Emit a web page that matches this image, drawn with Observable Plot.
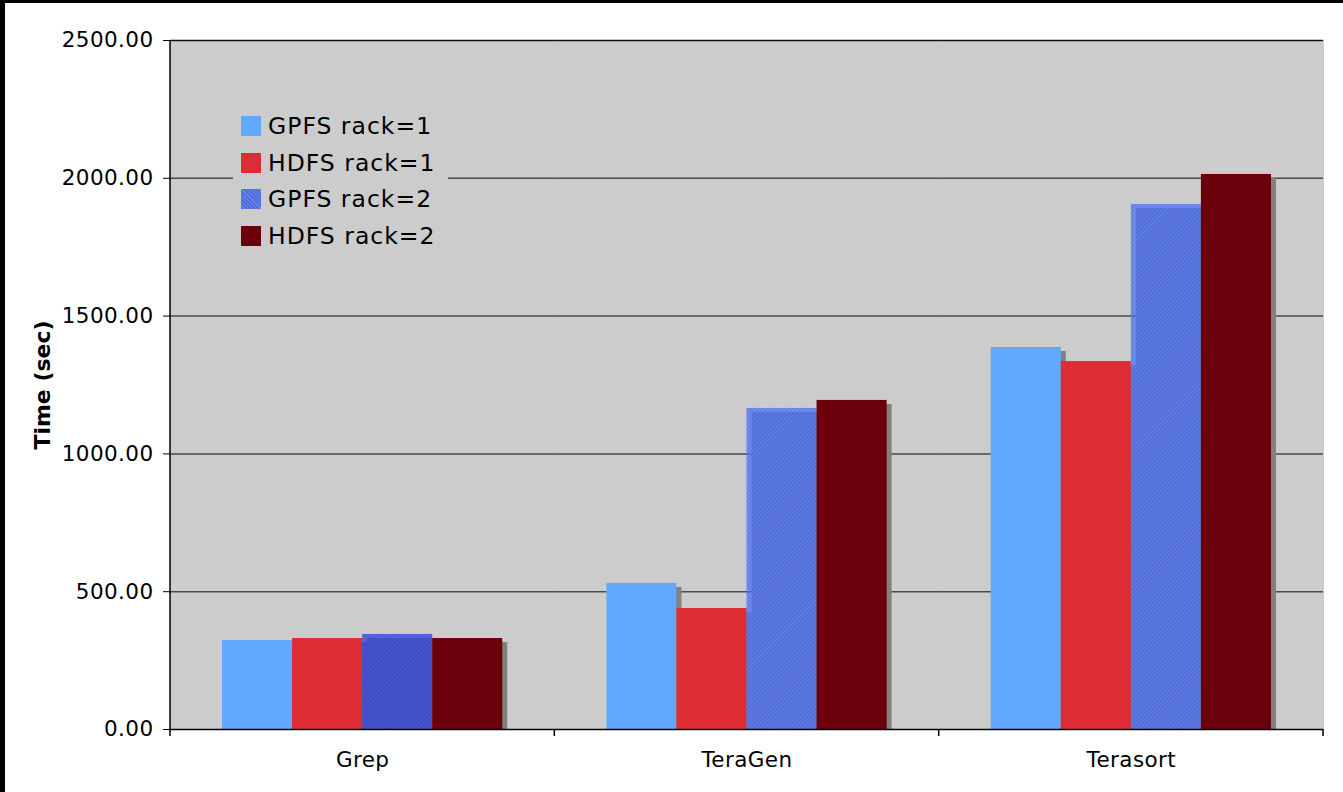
<!DOCTYPE html>
<html>
<head>
<meta charset="utf-8">
<script src="https://cdn.jsdelivr.net/npm/d3@7"></script>
<script src="https://cdn.jsdelivr.net/npm/@observablehq/plot@0.6"></script>
<style>
  html, body { margin: 0; padding: 0; background: #fff; }
  #wrap { position: relative; width: 1343px; height: 792px; overflow: hidden; font-family: "DejaVu Sans", Verdana, sans-serif; }
  #wrap svg { display: block; }
  #wrap svg text { letter-spacing: 0.4px; }
  .edge { position: absolute; background: #000; }
  #ytitle { position: absolute; left: 42px; top: 385px; transform: translate(-50%, -50%) rotate(-90deg);
            font-weight: bold; font-size: 22px; white-space: nowrap; color: #000; }
  #legend { position: absolute; left: 233px; top: 104px; width: 215px; height: 152px; background: #cccccc; }
  .lrow { position: absolute; left: 8px; display: flex; align-items: center; font-size: 23.5px; letter-spacing: 1px; color: #000; white-space: nowrap; }
  .lsw { width: 20px; height: 20px; margin-right: 7px; }
</style>
</head>
<body>
<div id="wrap"></div>
<script>
// Benchmark run times (seconds)
const benchmarks = ["Grep", "TeraGen", "Terasort"];
const seriesNames = ["GPFS rack=1", "HDFS rack=1", "GPFS rack=2", "HDFS rack=2"];
const gpfsRack1 = [323, 530, 1386];
const hdfsRack1 = [330, 439, 1335];
const gpfsRack2 = [345, 1165, 1905];
const hdfsRack2 = [330, 1194, 2014];
const yTicks = [0, 500, 1000, 1500, 2000, 2500];
const yTitle = "Time (sec)";

const seriesValues = [gpfsRack1, hdfsRack1, gpfsRack2, hdfsRack2];
const rows = [];
benchmarks.forEach((b, i) => {
  seriesNames.forEach((s, j) => rows.push({bench: b, series: s, time: seriesValues[j][i]}));
});

// fills per series; the rack=2 GPFS bars are hatched and slightly see-through
const fills = {
  "GPFS rack=1": "#63a8ff",
  "HDFS rack=1": "#dd2c33",
  "GPFS rack=2": "url(#hatch)",
  "HDFS rack=2": "#6b000b"
};
const swatchCss = {
  "GPFS rack=1": "#63a8ff",
  "HDFS rack=1": "#dd2c33",
  "GPFS rack=2": "repeating-linear-gradient(45deg, #4f6fdd 0 2px, #6a88ea 2px 3px)",
  "HDFS rack=2": "#6b000b"
};

const marks = [
  Plot.frame({fill: "#cccccc", stroke: "#cccccc", strokeWidth: 1}),
  Plot.ruleY(yTicks.filter(t => t > 0 && t < 2500), {stroke: "#4a4a4a", strokeWidth: 1.5}),
  Plot.ruleY([yTicks[yTicks.length - 1]], {stroke: "#111", strokeWidth: 1.5}),
  // drop shadows behind every bar
  Plot.barY(rows, {x: "series", y: "time", fill: "#808080", dx: 5, dy: 4, insetBottom: 4})
];
seriesNames.forEach(s => {
  const hatched = s === "GPFS rack=2";
  marks.push(Plot.barY(rows, {
    filter: d => d.series === s,
    x: "series", y: "time",
    fill: hatched ? (d => d.bench === "Grep" ? "url(#hatchDark)" : "url(#hatch)") : fills[s],
    fillOpacity: hatched ? 0.76 : 1
  }));
});
marks.push(Plot.ruleY([0], {stroke: "#000", strokeWidth: 1.5}));

const chart = Plot.plot({
  width: 1343,
  height: 792,
  marginLeft: 170,
  marginRight: 20,
  marginTop: 40,
  marginBottom: 63,
  style: {fontFamily: "'DejaVu Sans', Verdana, sans-serif", fontSize: "21.5px", color: "#000", background: "transparent"},
  facet: {data: rows, x: "bench"},
  fx: {domain: benchmarks, padding: 0, round: false, label: null, axis: "bottom", tickSize: 0, tickPadding: 22},
  x: {domain: seriesNames, axis: null, round: false, paddingInner: 0, paddingOuter: 0.743},
  y: {domain: [0, 2500], ticks: yTicks, tickFormat: d3.format(".2f"), tickSize: 7, tickPadding: 10, label: null},
  color: {type: "identity"},
  marks
});

const wrap = document.getElementById("wrap");
wrap.appendChild(chart);

// hatch patterns used by the GPFS rack=2 bars
const svgSel = d3.select(chart);
svgSel.insert("defs", ":first-child").html(`
  <pattern id="hatch" patternUnits="userSpaceOnUse" width="3" height="3" patternTransform="rotate(45)">
    <rect width="3" height="3" fill="#4268f5"></rect>
    <rect width="1" height="3" fill="#5f82ff"></rect>
  </pattern>
  <pattern id="hatchDark" patternUnits="userSpaceOnUse" width="3" height="3" patternTransform="rotate(45)">
    <rect width="3" height="3" fill="#2a3ad6"></rect>
    <rect width="1" height="3" fill="#3a4ae6"></rect>
  </pattern>`);

// left axis line and category separator ticks, positioned from the scales
const fxScale = chart.scale("fx"), yScale = chart.scale("y");
const bw = fxScale.bandwidth;
const xStart = fxScale.apply(benchmarks[0]);
const yTop = yScale.apply(2500), yBase = yScale.apply(0);
const axisG = svgSel.append("g").attr("stroke", "#000").attr("stroke-width", 1.5);
axisG.append("line").attr("x1", xStart).attr("x2", xStart).attr("y1", yTop).attr("y2", yBase + 7);
benchmarks.forEach(b => {
  const xe = fxScale.apply(b) + bw;
  axisG.append("line").attr("x1", xe).attr("x2", xe).attr("y1", yBase).attr("y2", yBase + 7);
});

// black edges along the top and left of the figure
const edgeTop = document.createElement("div");
edgeTop.className = "edge"; edgeTop.style.cssText = "left:0;top:0;width:1343px;height:3px;";
const edgeLeft = document.createElement("div");
edgeLeft.className = "edge"; edgeLeft.style.cssText = "left:0;top:0;width:5px;height:792px;";
wrap.append(edgeTop, edgeLeft);

// axis title
const yt = document.createElement("div");
yt.id = "ytitle"; yt.textContent = yTitle;
wrap.appendChild(yt);

// legend
const legendBox = document.createElement("div");
legendBox.id = "legend";
seriesNames.forEach((s, i) => {
  const row = document.createElement("div");
  row.className = "lrow";
  row.style.top = (12 + i * 36.7) + "px";
  row.style.height = "20px";
  const sw = document.createElement("div");
  sw.className = "lsw";
  sw.style.background = swatchCss[s];
  const tx = document.createElement("span");
  tx.textContent = s;
  row.append(sw, tx);
  legendBox.appendChild(row);
});
wrap.appendChild(legendBox);
</script>
</body>
</html>
